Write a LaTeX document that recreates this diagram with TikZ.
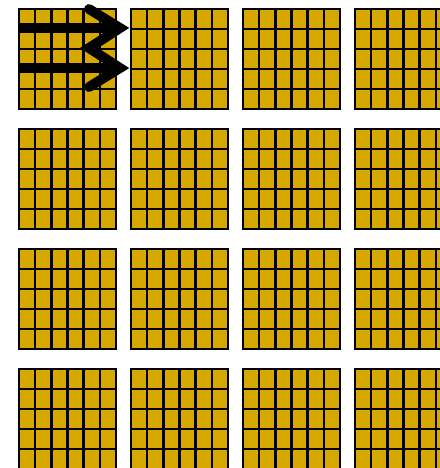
\documentclass[tikz,border=0pt]{standalone}
\usetikzlibrary{calc}
\definecolor{tilegold}{RGB}{214,168,0}
\tikzset{
  cellline/.style={line width=1.4pt, black},
  flowline/.style={line width=5.6pt, black, line join=miter, miter limit=10},
}
\begin{document}
\begin{tikzpicture}[x=0.02cm,y=-0.02cm]
        \useasboundingbox (0,0) rectangle (440,468);
        \clip (0,0) rectangle (440,468);
        % Blocks of 6x5 cells
        \foreach \i in {0,...,3}{
          \foreach \j in {0,...,3}{
            \begin{scope}[shift={(19+112*\i,9+120*\j)}]
              \fill[tilegold] (0,0) rectangle (97,100);
              \foreach \k in {1,...,5}
                \draw[cellline] ({97*\k/6},0) -- ({97*\k/6},100);
              \foreach \k in {1,...,4}
                \draw[cellline] (0,20*\k) -- (97,20*\k);
              \draw[cellline] (0,0) rectangle (97,100);
            \end{scope}
          }
        }
        % Define points of the arrows
        \coordinate (S1) at (18,28);
        \coordinate (S2) at (18,68);
        \coordinate (T1) at (120,28);
        \coordinate (T2) at (120,68);
        \coordinate (W1) at (89,9);
        \coordinate (W2) at (89,48);
        \coordinate (W3) at (89,87);
        % Arrows
        \draw[flowline] (S1) -- (T1);
        \draw[flowline] (S2) -- (T2);
        \draw[flowline, line cap=round] (W1) -- (T1) -- (W2) -- (T2) -- (W3);
\end{tikzpicture}
\end{document}
